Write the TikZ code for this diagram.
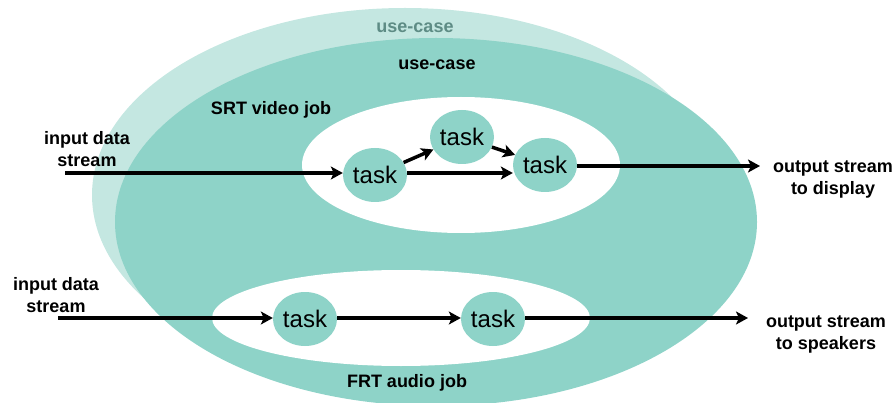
\documentclass[tikz,border=0pt]{standalone}
\usepackage{fontspec}
\setmainfont{Liberation Sans}
\usetikzlibrary{arrows.meta,shapes.geometric}
\definecolor{tealdark}{HTML}{8ED3C8}
\definecolor{teallight}{HTML}{C4E7E1}
\definecolor{labelgray}{HTML}{5E8C85}
\tikzset{
  lbl/.style={font=\fontsize{18}{22}\selectfont\bfseries, align=center, inner sep=0pt},
  taskbox/.style={ellipse, fill=tealdark, minimum width=64pt, minimum height=54pt, inner sep=0pt,
    font=\fontsize{24}{28}\selectfont},
  arr/.style={line width=3.5pt, -{Stealth[length=12pt,width=13pt,inset=3pt]}},
}
\begin{document}
\begin{tikzpicture}[x=1pt,y=-1pt]
\useasboundingbox (0,0) rectangle (896,403);
\begin{scope}
\clip (0,0) rectangle (896,403);
% use-case ellipses
\fill[teallight] (405,195) ellipse [x radius=313pt, y radius=187pt];
\fill[tealdark] (436,222) ellipse [x radius=321pt, y radius=184pt];
% job ellipses
\fill[white] (461,165) ellipse [x radius=159pt, y radius=68pt];
\fill[white] (401,318) ellipse [x radius=189pt, y radius=48pt];
\end{scope}
% labels
\node[lbl, text=labelgray] (uc1) at (415,28) {use-case};
\node[lbl] (uc2) at (437,65) {use-case};
\node[lbl] (srt) at (271,110) {SRT video job};
\node[lbl] (frt) at (407,383) {FRT audio job};
\node[lbl] (in1) at (87,149) {input data\\stream};
\node[lbl] (in2) at (56,295) {input data\\stream};
\node[lbl] (out1) at (833,179) {output stream\\to display};
\node[lbl] (out2) at (826,334) {output stream\\to speakers};
% tasks
\node[taskbox] (t1) at (375,175) {task};
\node[taskbox] (t2) at (462,137) {task};
\node[taskbox] (t3) at (545,165) {task};
\node[taskbox] (ta) at (305,319) {task};
\node[taskbox] (tb) at (493,319) {task};
% stream end points
\coordinate (s1) at (65,173);
\coordinate (e1) at (760,166);
\coordinate (s2) at (58,318);
\coordinate (e2) at (748,318);
% connectors
\draw[arr] (s1) -- (s1 -| t1.west);
\draw[arr] (t1) -- (t2);
\draw[arr] (t2) -- (t3);
\draw[arr] (t1.east |- s1) -- (s1 -| t3.west);
\draw[arr] (t3.east |- e1) -- (e1);
\draw[arr] (s2) -- (s2 -| ta.west);
\draw[arr] (ta.east |- s2) -- (s2 -| tb.west);
\draw[arr] (tb.east |- e2) -- (e2);
\end{tikzpicture}
\end{document}
